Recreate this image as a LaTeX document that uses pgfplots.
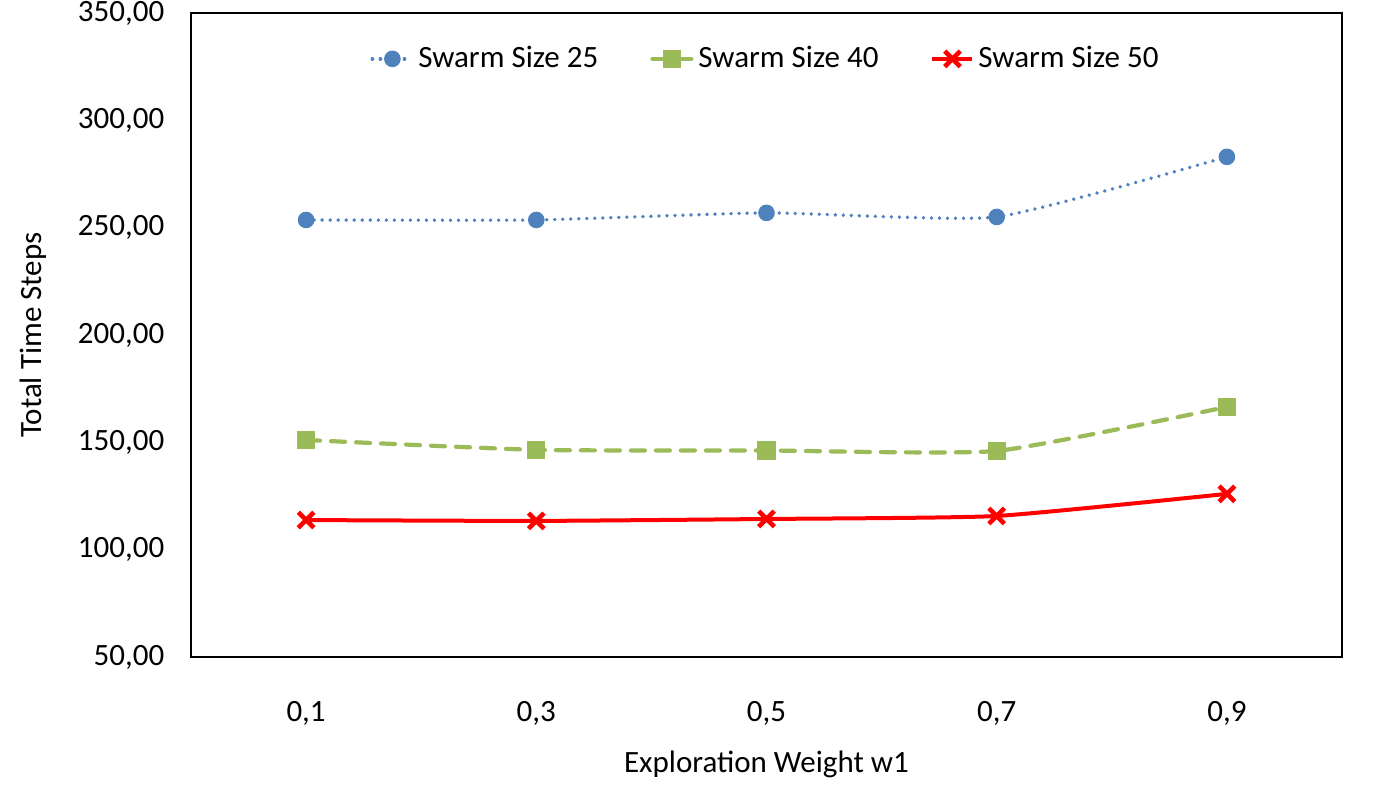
\documentclass[border=0pt]{standalone}
\usepackage{fontspec}
\setmainfont{Carlito}
\usepackage{pgfplots}
\pgfplotsset{compat=1.18}

\definecolor{sblue}{HTML}{4F81BD}
\definecolor{sgreen}{HTML}{9BBB59}
\definecolor{sred}{HTML}{FF0000}

\begin{document}
\fontsize{15.5}{18}\selectfont
\begin{tikzpicture}
\path[use as bounding box] (-95.5pt,-66pt) rectangle (594pt,328.5pt);
\begin{axis}[
    at={(0,0)}, anchor=south west,
    scale only axis,
    width=575.5pt, height=322pt,
    xmin=-0.5, xmax=4.5,
    ymin=50, ymax=350,
    xtick=data,
    xticklabels={{0,1},{0,3},{0,5},{0,7},{0,9}},
    ytick={50,100,150,200,250,300,350},
    yticklabel style={/pgf/number format/fixed, /pgf/number format/fixed zerofill,
        /pgf/number format/precision=2, /pgf/number format/use comma,
        /pgf/number format/assume math mode=true, xshift=-8pt},
    major tick length=0pt,
    xticklabel style={yshift=-17pt},
    xlabel={Exploration Weight w1},
    ylabel={Total Time Steps},
    xlabel style={yshift=-2pt},
    ylabel style={yshift=5pt},
    tick label style={font=\fontsize{15.5}{18}\selectfont},
    label style={font=\fontsize{15.5}{18}\selectfont},
    axis line style={line width=0.6pt},
    legend columns=3,
    legend style={at={(0.5,0.962)}, anchor=north, draw=none, fill=none,
        font=\fontsize{15.5}{18}\selectfont,
        /tikz/every even column/.append style={column sep=24pt},
        /tikz/every odd column/.append style={column sep=0pt}},
    legend cell align=left,
    legend image code/.code={%
        \draw[#1] (0pt,0pt) -- (20pt,0pt);
        \draw[#1,solid] plot coordinates {(10pt,0pt)};},
    smooth, tension=0.3,
]
\addplot[color=sblue, line width=1.9pt, dash pattern=on 0.01pt off 4pt, line cap=round,
    mark=*, mark size=3.9pt, mark options={solid, fill=sblue, draw=sblue, line width=0.5pt}]
    coordinates {(0,253.6)(1,253.6)(2,256.9)(3,255.0)(4,283.0)};
\addlegendentry{Swarm Size 25}
\addplot[color=sgreen, line width=2.1pt, dash pattern=on 7pt off 5.5pt, line cap=round,
    mark=square*, mark size=4.3pt, mark options={solid, fill=sgreen, draw=sgreen, line width=0.5pt}]
    coordinates {(0,151.1)(1,146.5)(2,146.2)(3,146.0)(4,166.5)};
\addlegendentry{Swarm Size 40}
\addplot[color=sred, line width=2pt,
    mark=x, mark size=5.5pt, mark options={solid, line width=2.3pt}]
    coordinates {(0,113.8)(1,113.4)(2,114.3)(3,115.7)(4,126.0)};
\addlegendentry{Swarm Size 50}
\end{axis}
\end{tikzpicture}
\end{document}
